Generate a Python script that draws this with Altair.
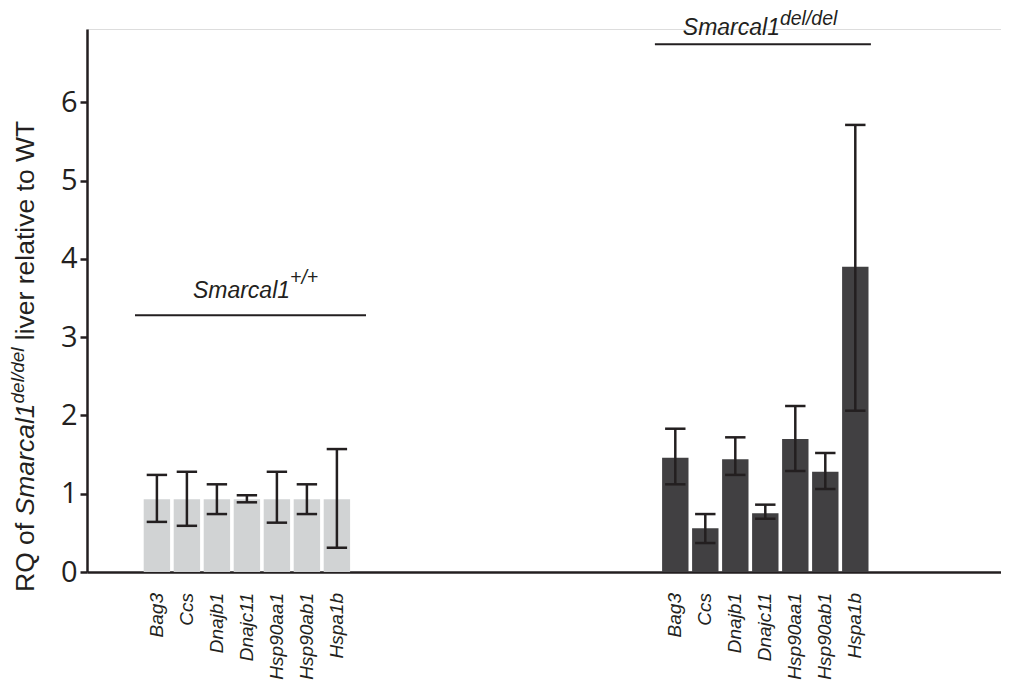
import altair as alt
import pandas as pd

# ---------------- data ----------------
genes = ["Bag3", "Ccs", "Dnajb1", "Dnajc11", "Hsp90aa1", "Hsp90ab1", "Hspa1b"]
wt_mean = [0.93, 0.93, 0.93, 0.93, 0.93, 0.93, 0.93]
wt_lo = [0.64, 0.59, 0.74, 0.89, 0.63, 0.74, 0.31]
wt_hi = [1.24, 1.28, 1.12, 0.98, 1.28, 1.12, 1.57]
del_mean = [1.46, 0.56, 1.44, 0.75, 1.70, 1.28, 3.90]
del_lo = [1.12, 0.37, 1.24, 0.68, 1.29, 1.06, 2.06]
del_hi = [1.83, 0.74, 1.72, 0.86, 2.12, 1.52, 5.71]
y_ticks = [0, 1, 2, 3, 4, 5, 6]
y_max = 6.935

# ---------------- layout (not data) ----------------
W, H = 914, 543
PX = 30.0                     # pixels per slot
X0 = -2.33                    # slot at left edge of plot
DEL_OFFSET = 17.28            # slot of first del/del bar
HALF_BAR = 0.44
HALF_CAP = 0.34
INK = "#231f20"
FONT = "Liberation Sans"

rows = []
for grp, off, m, lo, hi in [("wt", 0.0, wt_mean, wt_lo, wt_hi),
                            ("del", DEL_OFFSET, del_mean, del_lo, del_hi)]:
    for i, g in enumerate(genes):
        p = off + i
        rows.append(dict(gene=g, group=grp, pos=p, mean=m[i], lo=lo[i], hi=hi[i],
                         left=p - HALF_BAR, right=p + HALF_BAR,
                         capl=p - HALF_CAP, capr=p + HALF_CAP))
df = pd.DataFrame(rows)

xs = alt.Scale(domain=[X0, X0 + W / PX], nice=False, zero=False)
ys = alt.Scale(domain=[0, y_max], nice=False)

base = alt.Chart(df)

bars = base.mark_rect().encode(
    x=alt.X("left:Q", scale=xs,
            axis=alt.Axis(labels=False, ticks=False, grid=False, title=None,
                          domainColor=INK, domainWidth=2.5)),
    x2="right:Q",
    y=alt.Y("mean:Q", scale=ys,
            axis=alt.Axis(values=y_ticks, format="d", grid=False, title=None,
                          labelFont="Open Sans", labelFontSize=29, labelColor=INK,
                          labelPadding=3, tickSize=7, tickWidth=2.5, tickColor=INK,
                          domainColor=INK, domainWidth=2.5)),
    y2=alt.datum(0),
    color=alt.Color("group:N", scale=alt.Scale(domain=["wt", "del"],
                                               range=["#d1d3d4", "#414042"]),
                    legend=None),
)

err = base.mark_rule(color=INK, strokeWidth=2.5).encode(
    x="pos:Q", y="lo:Q", y2="hi:Q")
cap_hi = base.mark_rule(color=INK, strokeWidth=2.5).encode(
    x="capl:Q", x2="capr:Q", y="hi:Q")
cap_lo = base.mark_rule(color=INK, strokeWidth=2.5).encode(
    x="capl:Q", x2="capr:Q", y="lo:Q")

gene_labels = base.mark_text(angle=270, align="right", baseline="middle",
                             font=FONT, fontStyle="italic", fontSize=19,
                             color=INK).encode(
    x="pos:Q", y=alt.value(H + 21), text="gene:N")

# ---- Arial/Liberation width table (per em) for building rich text ----
WID = {" ": .278, "R": .722, "Q": .778, "o": .556, "f": .278, "S": .667,
       "m": .833, "a": .556, "r": .333, "c": .5, "l": .222, "1": .556,
       "d": .556, "e": .556, "/": .278, "i": .222, "v": .5, "t": .278,
       "W": .944, "T": .611, "+": .584}


def tw(s, size):
    return sum(WID[c] for c in s) * size


# ---- y axis title (rotated, mixed styles) ----
TF, TS = 26.5, 19
segs = [("RQ of", "normal", TF, 0, 1), ("Smarcal1", "italic", TF, 0, 0),
        ("del/del", "italic", TS, 1, 0), ("liver relative to WT", "normal", TF, 0, 0)]
ystart = 563.0
tx_base = -53.0
tx_sup = -63.0
layers_title = []
cur = ystart
for idx, (text, style, size, sup, trailing_space) in enumerate(segs):
    if idx == 3:
        cur -= tw(" ", TF)
    d = pd.DataFrame({"t": [text]})
    layers_title.append(
        alt.Chart(d).mark_text(angle=270, align="left", baseline="alphabetic",
                               font=FONT, fontStyle=style, fontSize=size,
                               color=INK).encode(
            x=alt.value(tx_sup if sup else tx_base), y=alt.value(cur), text="t:N"))
    cur -= tw(text, size) + (tw(" ", size) if trailing_space else 0)

# ---- group annotations ----
GF, GS = 23, 19.5
groups_ann = [
    # line x from, line x to, line y, text start slot, text y, sup y, superscript
    (-0.73, 6.97, 3.28, 1.2, 3.50, 3.68, "+/+"),
    (16.6, 23.8, 6.74, 17.53, 6.86, 6.99, "del/del"),
]
ann_layers = []
for x1, x2, ly, ts, tyv, syv, sup in groups_ann:
    dl = pd.DataFrame({"a": [x1], "b": [x2], "y": [ly]})
    ann_layers.append(alt.Chart(dl).mark_rule(color=INK, strokeWidth=2).encode(
        x=alt.X("a:Q", scale=xs), x2="b:Q", y=alt.Y("y:Q", scale=ys)))
    dt = pd.DataFrame({"x": [ts], "y": [tyv], "t": ["Smarcal1"]})
    ann_layers.append(alt.Chart(dt).mark_text(
        align="left", baseline="alphabetic", font=FONT, fontStyle="italic",
        fontSize=GF, color=INK).encode(
        x=alt.X("x:Q", scale=xs), y=alt.Y("y:Q", scale=ys), text="t:N"))
    ds = pd.DataFrame({"x": [ts + tw("Smarcal1", GF) / PX], "y": [syv], "t": [sup]})
    ann_layers.append(alt.Chart(ds).mark_text(
        align="left", baseline="alphabetic", font=FONT, fontStyle="italic",
        fontSize=GS, color=INK).encode(
        x=alt.X("x:Q", scale=xs), y=alt.Y("y:Q", scale=ys), text="t:N"))

chart = alt.layer(bars, err, cap_hi, cap_lo, gene_labels, *layers_title,
                  *ann_layers).properties(
    width=W, height=H,
    autosize=alt.AutoSizeParams(type="none"),
    padding={"left": 79, "top": 21, "right": 0, "bottom": 111},
).configure_view(stroke=None).configure(background="white")

chart.save("out.html", embed_options={"renderer": "svg", "actions": False})
